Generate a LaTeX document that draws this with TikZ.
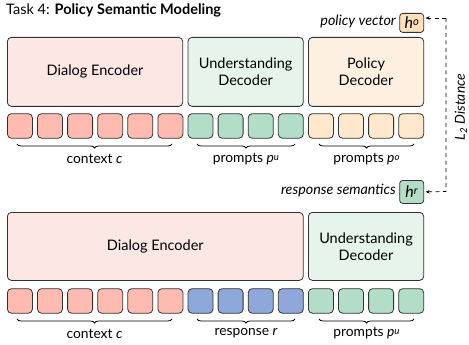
\documentclass[tikz,border=0pt]{standalone}
\usepackage{fontspec}
\setmainfont{Lato}
\usetikzlibrary{decorations.pathreplacing,arrows.meta}
\definecolor{redsq}{RGB}{255,187,176}
\definecolor{redbox}{RGB}{253,231,229}
\definecolor{grnsq}{RGB}{178,222,200}
\definecolor{grnbox}{RGB}{230,244,236}
\definecolor{orgsq}{RGB}{255,232,204}
\definecolor{orgbox}{RGB}{253,240,225}
\definecolor{orghv}{RGB}{255,224,186}
\definecolor{blusq}{RGB}{143,168,218}
\definecolor{edge}{RGB}{50,50,50}
\newcommand{\supit}[1]{\raisebox{0.35ex}{\scalebox{0.7}{\textit{#1}}}}
\tikzset{
  bigbox/.style={draw=edge, line width=0.8pt, rounded corners=4pt, anchor=north west, align=center, font=\fontsize{14.5}{17}\selectfont, inner sep=0pt},
  tok/.style={draw=edge, line width=0.8pt, rounded corners=4pt, anchor=north west, minimum width=25pt, minimum height=24.5pt, inner sep=0pt},
  hbox/.style={draw=edge, line width=0.8pt, rounded corners=3pt, anchor=north west, minimum width=24pt, inner sep=0pt, font=\fontsize{16}{18}\selectfont},
  brc/.style={decorate, decoration={brace, mirror, amplitude=4pt}, line width=0.8pt},
  lbl/.style={font=\fontsize{13.8}{15}\selectfont, inner sep=0pt},
  side/.style={font=\fontsize{14.3}{16}\selectfont\itshape, inner sep=0pt, anchor=east},
  conn/.style={dashed, dash pattern=on 4pt off 3.5pt, line width=0.7pt, -{Stealth[length=4pt,width=3.5pt]}, shorten >=1.5pt}
}
\begin{document}
\begin{tikzpicture}[x=1pt,y=-1pt]
\useasboundingbox (0,0) rectangle (469,345);
% title
\node[anchor=west, inner sep=0pt, font=\fontsize{14.5}{16}\selectfont] (title) at (6,10.5) {Task 4: \textbf{Policy Semantic Modeling}};
% top boxes
\node[bigbox, fill=redbox, minimum width=175.3pt, minimum height=69pt] (de1) at (7,37) {Dialog Encoder};
\node[bigbox, fill=grnbox, minimum width=115.3pt, minimum height=69pt] (ud1) at (187.6,37) {Understanding\\Decoder};
\node[bigbox, fill=orgbox, minimum width=115.3pt, minimum height=69pt] (pd1) at (308,37) {Policy\\Decoder};
% top tokens
\foreach \i in {0,...,13}{
  \ifnum\i<6 \def\c{redsq}\else\ifnum\i<10 \def\c{grnsq}\else\def\c{orgsq}\fi\fi
  \node[tok, fill=\c] (t\i) at ({7+30.1*\i},113.3) {};
}
% top braces
\draw[brc] (17,144) -- (172,144);
\draw[brc] (197,144) -- (295,144);
\draw[brc] (319,144) -- (414,144);
\node[lbl] (lc1) at (94.5,159) {context \textit{c}};
\node[lbl] (lpu1) at (246,159) {prompts \textit{p}\supit{u}};
\node[lbl] (lpo1) at (366.5,159) {prompts \textit{p}\supit{o}};
% h boxes
\node[hbox, fill=orghv, minimum height=19pt] (ho) at (399.3,13) {\textit{h}\supit{o}};
\node[side] (pv) at (396,21.5) {policy vector};
\node[hbox, fill=grnsq, minimum height=23pt] (hr) at (399.3,180) {\textit{h}\supit{r}};
\node[side] (rs) at (396,190.5) {response semantics};
% distance connector
\coordinate (c1) at (446,18);
\coordinate (c2) at (446,191.5);
\draw[conn] (c1) -- (ho.east |- c1);
\draw[conn] (c1) -- (c2) -- (hr.east);
\node[rotate=90, font=\fontsize{13.8}{15}\selectfont\itshape, inner sep=0pt] (l2) at (461,107) {L\textsubscript{2} Distance};
% bottom boxes
\node[bigbox, fill=redbox, minimum width=295.9pt, minimum height=68pt] (de2) at (7,212) {Dialog Encoder};
\node[bigbox, fill=grnbox, minimum width=115.3pt, minimum height=68pt] (ud2) at (308,212) {Understanding\\Decoder};
% bottom tokens
\foreach \i in {0,...,13}{
  \ifnum\i<6 \def\c{redsq}\else\ifnum\i<10 \def\c{blusq}\else\def\c{grnsq}\fi\fi
  \node[tok, fill=\c] (b\i) at ({7+30.1*\i},288.3) {};
}
\draw[brc] (17,319) -- (172,319);
\draw[brc] (197,319) -- (295,319);
\draw[brc] (319,319) -- (414,319);
\node[lbl] (lc2) at (94.5,333.5) {context \textit{c}};
\node[lbl] (lr2) at (246,333.5) {response \textit{r}};
\node[lbl] (lpu2) at (366.5,333.5) {prompts \textit{p}\supit{u}};
\end{tikzpicture}
\end{document}
